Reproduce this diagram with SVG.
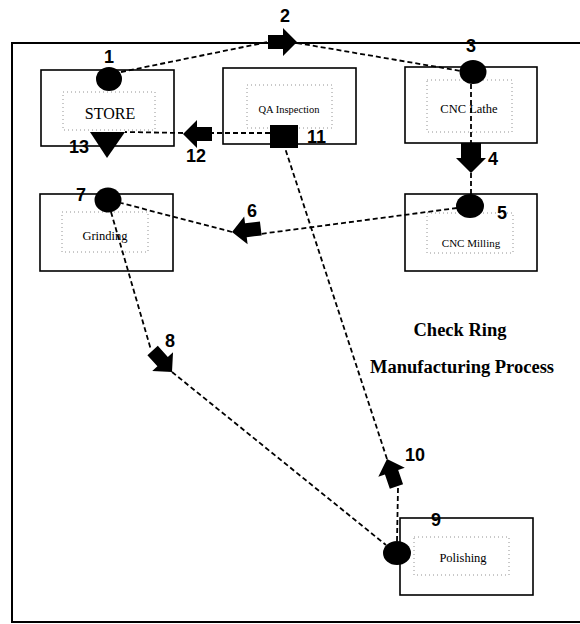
<svg xmlns="http://www.w3.org/2000/svg" xmlns:xlink="http://www.w3.org/1999/xlink" width="580" height="624" viewBox="0 0 580 624">
<style>
.box{fill:#fff;stroke:#000;stroke-width:1.6}
.inner{fill:none;stroke:#777;stroke-width:0.8;stroke-dasharray:1 3}
.lbl{font-family:"Liberation Serif","Times New Roman",serif;text-anchor:middle;fill:#000}
.num{font-family:"Liberation Sans",Arial,sans-serif;font-weight:bold;font-size:18px;fill:#000}
.title{font-family:"Liberation Serif","Times New Roman",serif;font-weight:bold;font-size:18.5px;text-anchor:middle;fill:#000}
.dash{fill:none;stroke:#000;stroke-width:1.8;stroke-dasharray:5 3}
.sym{fill:#000}
</style>
<defs>
<path id="barrow" d="M0,0 L-14,-14 L-14,-7 L-29,-7 L-29,7 L-14,7 L-14,14 Z"/>
<path id="barrow-wide" d="M0,0 L-15,-15 L-15,-10 L-30,-10 L-30,10 L-15,10 L-15,15 Z"/>
</defs>
<rect x="12" y="43" width="576" height="579" fill="none" stroke="#000" stroke-width="2"/>

<g id="store">
<rect class="box" x="41" y="70" width="133" height="76"/>
<rect class="inner" x="63" y="92" width="92" height="38"/>
<text class="lbl" x="110" y="119" font-size="16">STORE</text>
</g>
<g id="qa-inspection">
<rect class="box" x="223" y="68" width="133" height="76"/>
<rect class="inner" x="247" y="85" width="85" height="43"/>
<text class="lbl" x="289" y="113" font-size="10.5">QA Inspection</text>
</g>
<g id="cnc-lathe">
<rect class="box" x="405" y="67" width="132" height="76"/>
<rect class="inner" x="427" y="80" width="85" height="52"/>
<text class="lbl" x="469" y="113" font-size="12.5">CNC Lathe</text>
</g>
<g id="grinding">
<rect class="box" x="40" y="194" width="133" height="77"/>
<rect class="inner" x="62" y="212" width="86" height="40"/>
<text class="lbl" x="105" y="240" font-size="12.5">Grinding</text>
</g>
<g id="cnc-milling">
<rect class="box" x="405" y="194" width="132" height="77"/>
<rect class="inner" x="427" y="213" width="86" height="40"/>
<text class="lbl" x="471" y="247" font-size="11">CNC Milling</text>
</g>
<g id="polishing">
<rect class="box" x="400" y="518" width="133" height="77"/>
<rect class="inner" x="414" y="537" width="95" height="38"/>
<text class="lbl" x="463" y="562" font-size="12.5">Polishing</text>
</g>

<g id="connectors">
<line class="dash" x1="121" y1="72" x2="268" y2="42"/>
<line class="dash" x1="297" y1="43" x2="461" y2="71"/>
<line class="dash" x1="471" y1="84" x2="471" y2="143"/>
<line class="dash" x1="471" y1="173" x2="471" y2="194"/>
<line class="dash" x1="457" y1="208" x2="260" y2="234"/>
<line class="dash" x1="232" y1="232" x2="121" y2="203"/>
<line class="dash" x1="111" y1="212" x2="151" y2="350"/>
<line class="dash" x1="172" y1="372" x2="386" y2="545"/>
<line class="dash" x1="397" y1="541" x2="398" y2="488"/>
<line class="dash" x1="387" y1="459" x2="285" y2="148"/>
<line class="dash" x1="270" y1="133" x2="212" y2="133"/>
<line class="dash" x1="183" y1="133" x2="125" y2="132"/>
</g>

<g id="symbols">
<g id="op1"><ellipse class="sym" cx="109" cy="79" rx="13" ry="12"/><text class="num" x="109" y="63" text-anchor="middle">1</text></g>
<g id="tr2"><use xlink:href="#barrow" class="sym" transform="translate(297,42)"/><text class="num" x="285" y="22" text-anchor="middle">2</text></g>
<g id="op3"><ellipse class="sym" cx="473" cy="72" rx="13.5" ry="12"/><text class="num" x="471" y="52" text-anchor="middle">3</text></g>
<g id="tr4"><use xlink:href="#barrow-wide" class="sym" transform="translate(471,173) rotate(90)"/><text class="num" x="488" y="165">4</text></g>
<g id="op5"><ellipse class="sym" cx="470" cy="206" rx="14" ry="12"/><text class="num" x="502" y="219" text-anchor="middle">5</text></g>
<g id="tr6"><use xlink:href="#barrow" class="sym" transform="translate(232,232) rotate(173)"/><text class="num" x="252" y="217" text-anchor="middle">6</text></g>
<g id="op7"><ellipse class="sym" cx="108" cy="200" rx="13.5" ry="12.5"/><text class="num" x="81" y="201" text-anchor="middle">7</text></g>
<g id="tr8"><use xlink:href="#barrow" class="sym" transform="translate(172,372) rotate(48)"/><text class="num" x="170" y="347" text-anchor="middle">8</text></g>
<g id="op9"><ellipse class="sym" cx="397" cy="553" rx="14" ry="12"/><text class="num" x="436" y="526" text-anchor="middle">9</text></g>
<g id="tr10"><use xlink:href="#barrow" class="sym" transform="translate(387,459) rotate(-109)"/><text class="num" x="415" y="461" text-anchor="middle">10</text></g>
<g id="in11"><rect class="sym" x="270" y="125" width="28" height="23"/><text class="num" x="307" y="143">11</text></g>
<g id="tr12"><use xlink:href="#barrow" class="sym" transform="translate(183,134) rotate(180)"/><text class="num" x="196" y="162" text-anchor="middle">12</text></g>
<g id="st13"><polygon class="sym" points="90,132 125,132 107,158"/><text class="num" x="79" y="153" text-anchor="middle">13</text></g>
</g>

<g id="title">
<text class="title" x="460" y="336">Check Ring</text>
<text class="title" x="462" y="373">Manufacturing Process</text>
</g>
</svg>
